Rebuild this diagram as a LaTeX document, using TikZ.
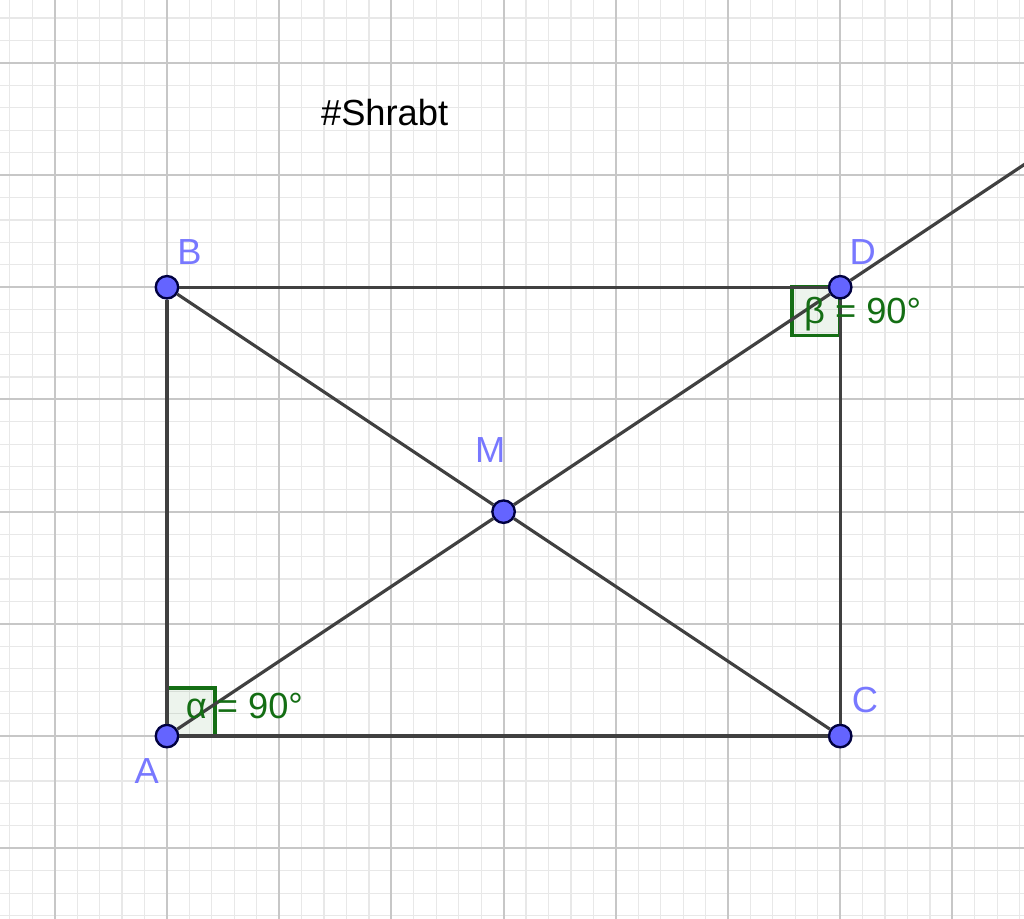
\documentclass[tikz,border=0pt]{standalone}
\usepackage{fontspec}
\setmainfont{Liberation Sans}
\definecolor{ptblue}{RGB}{100,100,255}
\definecolor{lblblue}{RGB}{120,120,255}
\definecolor{anggreen}{RGB}{20,110,20}
\definecolor{seggray}{RGB}{64,64,64}
\tikzset{
  pt/.style={circle,draw=blue!25!black,fill=ptblue,line width=0.6pt,inner sep=0pt,minimum size=0.2cm},
  lbl/.style={text=lblblue,font=\fontsize{9.2}{11}\selectfont},
  seg/.style={seggray,line width=0.8pt},
  angmark/.style={draw=anggreen,line width=0.9pt,fill=anggreen,fill opacity=0.08},
  angtext/.style={text=anggreen,font=\fontsize{9.2}{11}\selectfont}
}
\begin{document}
\begin{tikzpicture}
\clip (-1.488,-1.622) rectangle (7.638,6.56);
% grid
\draw[black!9,line width=0.3pt] (-1.6,-1.8) grid[step=0.2] (7.8,6.8);
\draw[black!22,line width=0.5pt] (-1.6,-1.8) grid[step=1] (7.8,6.8);
% right angle marks
\draw[angmark] (0,0) rectangle (0.43,0.43);
\draw[angmark] (6,4) rectangle (5.57,3.57);
% points
\node[pt] (A) at (0,0) {};
\node[pt] (B) at (0,4) {};
\node[pt] (C) at (6,0) {};
\node[pt] (D) at (6,4) {};
\node[pt] (M) at (3,2) {};
\coordinate (far) at (9,6);
% sides and diagonals
\draw[seg] (A) -- (B) -- (D) -- (C) -- (A);
\draw[seg] (B) -- (M) -- (C);
\draw[seg] (A) -- (M) -- (D) -- (far);
% labels
\node[lbl] (lA) at (-0.18,-0.31) {A};
\node[lbl] (lB) at (0.2,4.31) {B};
\node[lbl] (lC) at (6.22,0.32) {C};
\node[lbl] (lD) at (6.2,4.31) {D};
\node[lbl] (lM) at (2.88,2.55) {M};
\node[angtext] (alpha) at (0.69,0.27) {α = 90°};
\node[angtext] (beta) at (6.2,3.76) {β = 90°};
\node[font=\fontsize{9.2}{11}\selectfont] (title) at (1.94,5.56) {\#Shrabt};
\end{tikzpicture}
\end{document}
